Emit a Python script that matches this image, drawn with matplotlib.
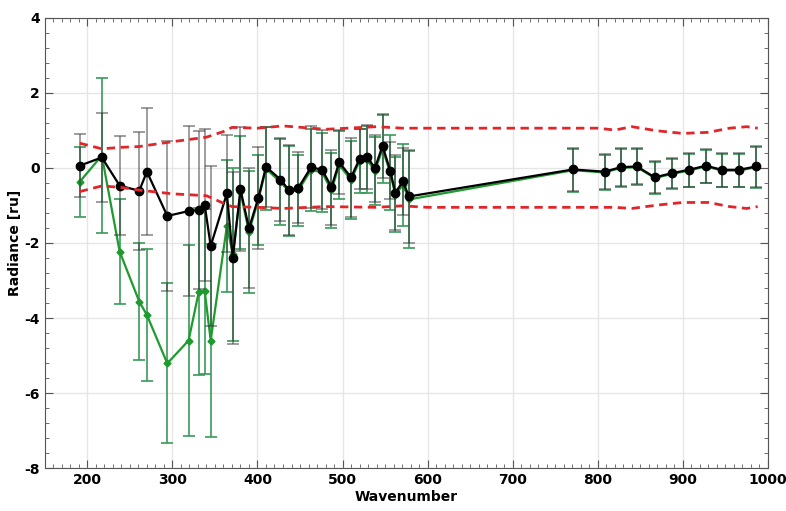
import matplotlib
matplotlib.use("Agg")
import matplotlib.pyplot as plt
from matplotlib.ticker import MultipleLocator

plt.rcParams["axes.unicode_minus"] = False

# wavenumbers of the measurement points
wavenumber = [191, 217, 238, 261, 270, 294, 319, 331, 338, 345, 364, 371, 380, 390, 401,
              410, 427, 437, 448, 463, 476, 487, 496, 510, 520, 529, 538, 547, 556, 562,
              571, 578, 771, 808, 827, 846, 867, 887, 907, 927, 946, 966, 986]

black_val = [0.06, 0.28, -0.47, -0.61, -0.10, -1.28, -1.15, -1.12, -0.99, -2.08, -0.68, -2.40,
             -0.57, -1.61, -0.80, 0.03, -0.31, -0.59, -0.53, 0.02, -0.05, -0.51, 0.15, -0.25,
             0.24, 0.30, -0.01, 0.59, -0.07, -0.66, -0.36, -0.76, -0.04, -0.10, 0.02, 0.04,
             -0.25, -0.14, -0.05, 0.06, -0.05, -0.05, 0.04]
black_err = [0.84, 1.18, 1.31, 1.58, 1.70, 2.00, 2.27, 2.10, 2.02, 2.13, 1.55, 2.30, 1.65,
             1.60, 1.35, 1.06, 1.10, 1.20, 0.95, 1.10, 1.05, 1.00, 0.85, 1.05, 0.80, 0.85,
             0.90, 0.85, 0.75, 1.00, 0.90, 1.25, 0.57, 0.46, 0.50, 0.48, 0.43, 0.40, 0.45,
             0.45, 0.45, 0.45, 0.55]

green_val = [-0.37, 0.33, -2.23, -3.56, -3.92, -5.21, -4.60, -3.30, -3.29, -4.60, -1.55, -2.30,
             -0.65, -1.70, -0.85, -0.02, -0.38, -0.62, -0.60, -0.05, -0.12, -0.60, 0.08, -0.32,
             0.18, 0.22, -0.08, 0.50, -0.12, -0.72, -0.45, -0.84, -0.06, -0.12, 0.00, 0.02,
             -0.27, -0.16, -0.07, 0.04, -0.07, -0.07, 0.02]
green_err = [0.94, 2.07, 1.39, 1.56, 1.75, 2.13, 2.55, 2.22, 2.20, 2.56, 1.76, 2.30, 1.50,
             1.62, 1.20, 1.10, 1.15, 1.20, 0.95, 1.10, 1.05, 1.00, 0.90, 1.05, 0.85, 0.90,
             0.90, 0.90, 1.00, 1.00, 1.10, 1.30, 0.57, 0.46, 0.50, 0.48, 0.43, 0.40, 0.45,
             0.45, 0.45, 0.45, 0.55]

# red dashed uncertainty envelope
band_x = [191, 217, 240, 261, 300, 340, 360, 370, 400, 430, 480, 540, 570, 600, 700, 800,
          820, 840, 870, 900, 930, 955, 975, 988]
band_upper = [0.66, 0.51, 0.55, 0.57, 0.70, 0.82, 0.97, 1.08, 1.06, 1.12, 1.03, 1.10, 1.06,
              1.06, 1.06, 1.06, 1.01, 1.10, 0.99, 0.92, 0.95, 1.06, 1.10, 1.06]
band_lower = [-0.63, -0.48, -0.52, -0.59, -0.69, -0.74, -0.94, -1.03, -1.05, -1.08, -1.03,
              -1.05, -1.01, -1.05, -1.05, -1.05, -1.05, -1.08, -0.99, -0.92, -0.92, -1.03,
              -1.08, -1.03]

fig = plt.figure(figsize=(7.86, 5.11), dpi=100)
ax = fig.add_axes([0.057, 0.084, 0.92, 0.881])

ax.errorbar(wavenumber, green_val, yerr=green_err, color="#1e9a2e", marker="D", ms=3.5,
            lw=1.6, ecolor="#3a9a5a", elinewidth=1.2, capsize=4, capthick=1.2, zorder=3)
ax.errorbar(wavenumber, black_val, yerr=black_err, color="black", marker="o", ms=6,
            lw=1.6, ecolor=(0.2, 0.2, 0.2, 0.6), elinewidth=1.1, capsize=4, capthick=1.1,
            zorder=4)
ax.plot(band_x, band_upper, color="#e0262a", ls=(0, (3, 2)), lw=2.0, zorder=5)
ax.plot(band_x, band_lower, color="#e0262a", ls=(0, (3, 2)), lw=2.0, zorder=5)

ax.set_xlim(150, 1000)
ax.set_ylim(-8, 4)
ax.xaxis.set_major_locator(MultipleLocator(100))
ax.xaxis.set_minor_locator(MultipleLocator(10))
ax.yaxis.set_major_locator(MultipleLocator(2))
ax.yaxis.set_minor_locator(MultipleLocator(0.4))
ax.tick_params(which="both", direction="in", top=True, right=True, color="#555555")
ax.tick_params(which="major", length=6, labelsize=10)
ax.tick_params(which="minor", length=3)
ax.xaxis.set_major_formatter(plt.FuncFormatter(lambda v, p: "" if v < 200 else "%d" % v))
for lab in ax.get_xticklabels() + ax.get_yticklabels():
    lab.set_fontweight("bold")
for s in ax.spines.values():
    s.set_color("#555555")
ax.grid(True, which="major", color="#e6e6e6", lw=1)
ax.set_axisbelow(True)

ax.set_xlabel("Wavenumber", fontsize=10, fontweight="bold", labelpad=2)
ax.set_ylabel("Radiance [ru]", fontsize=10, fontweight="bold", labelpad=2)

fig.savefig("out.png", dpi=100)
